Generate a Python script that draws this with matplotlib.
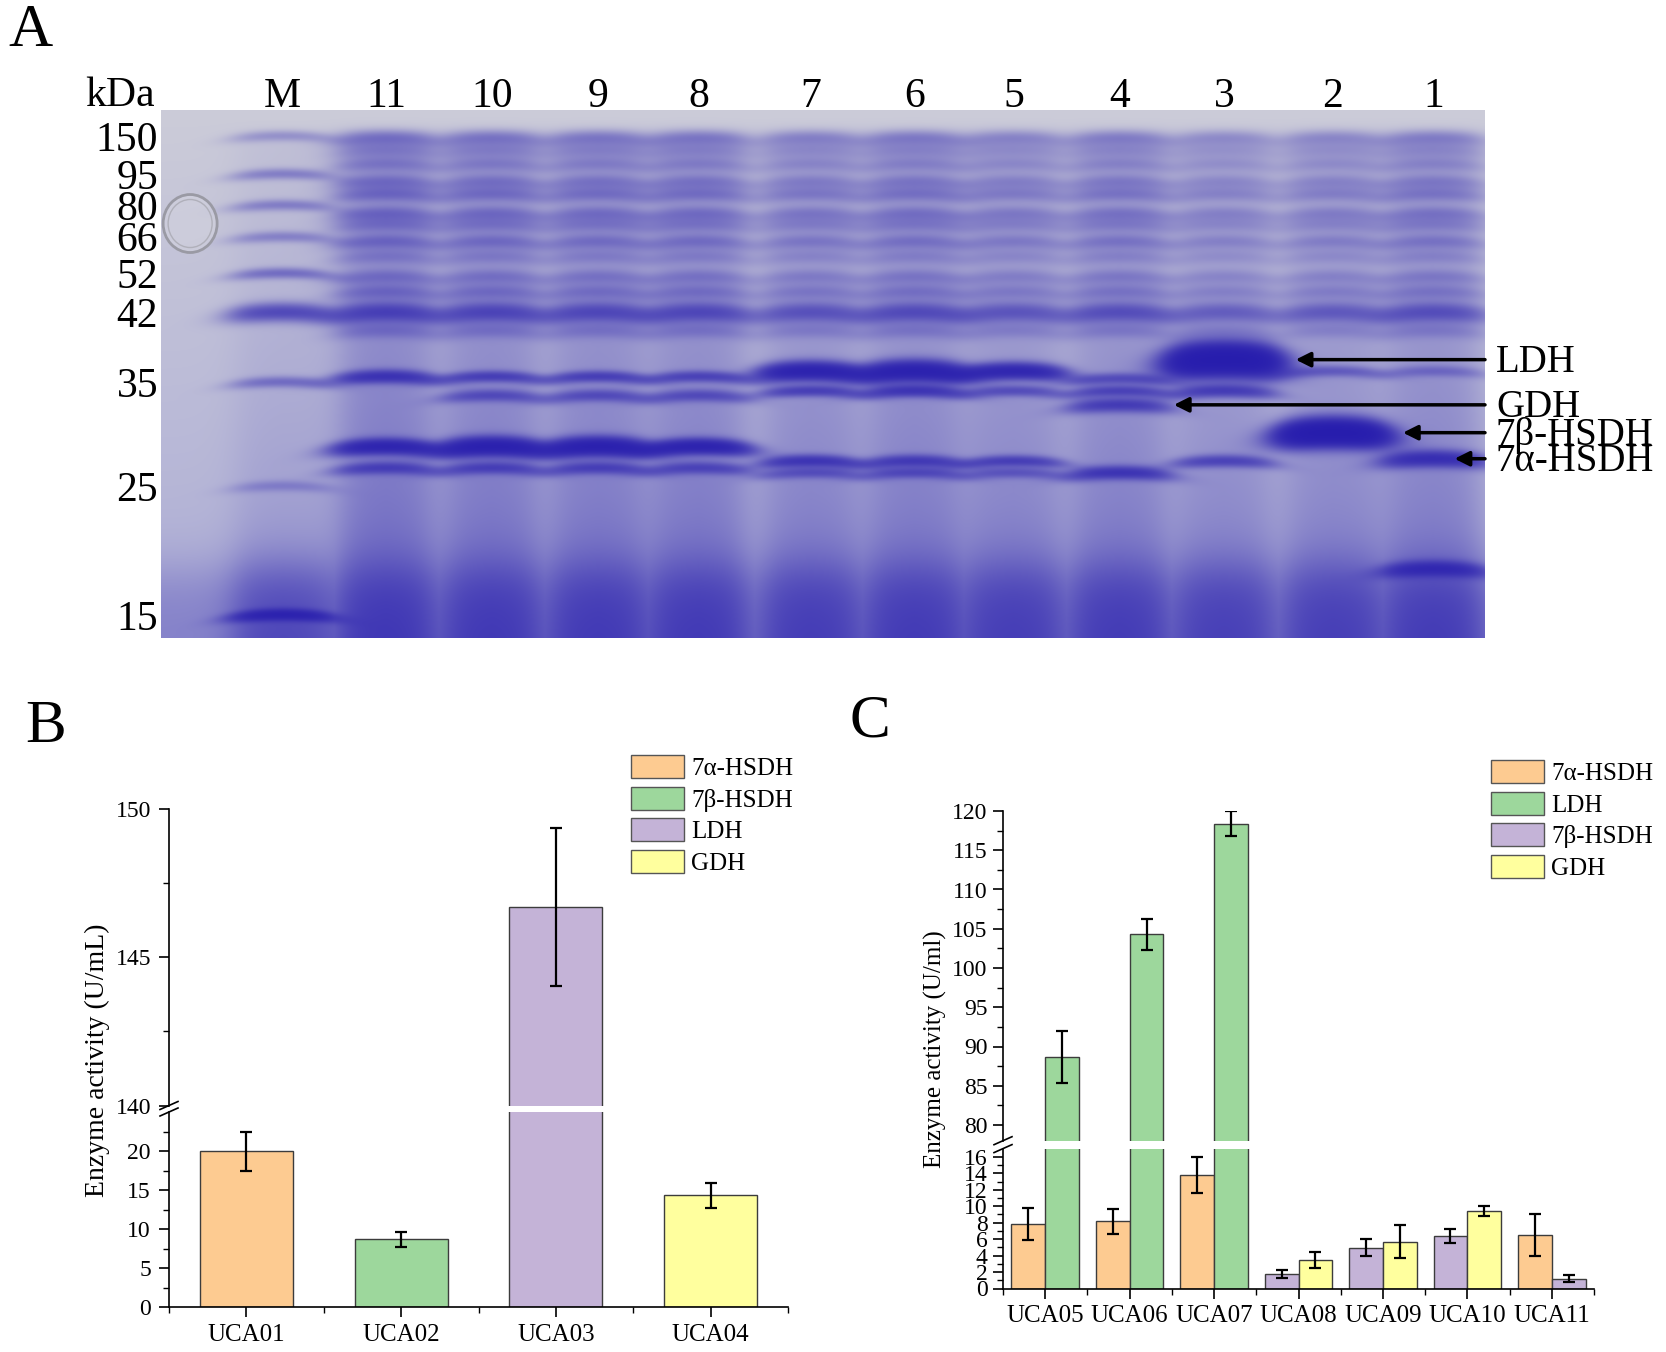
import matplotlib.pyplot as plt
import numpy as np
from matplotlib.patches import Patch, Ellipse

plt.rcParams['font.family'] = ['Liberation Serif', 'DejaVu Serif']

# ---------------- panel A : SDS-PAGE gel ----------------
lane_names = ['M', '11', '10', '9', '8', '7', '6', '5', '4', '3', '2', '1']
marker_kda = [150, 95, 80, 66, 52, 42, 35, 25, 15]
marker_rf = [0.049, 0.121, 0.180, 0.240, 0.309, 0.383, 0.515, 0.712, 0.956]
marker_strength = [0.35, 0.5, 0.5, 0.45, 0.65, 1.2, 0.6, 0.35, 2.0]

# host-cell bands present in every sample lane (kDa, strength)
host_kda = [146, 126, 107, 91, 85, 76, 71, 64, 58, 51, 47, 42, 40]
host_strength = [0.45, 0.3, 0.35, 0.45, 0.5, 0.5, 0.4, 0.5, 0.3, 0.4, 0.45, 1.1, 0.35]
lane_load = [1.1, 1.0, 0.95, 0.95, 0.8, 0.9, 0.75, 0.85, 0.65, 0.7, 0.85]  # lanes 11..1

# lane specific bands: (kDa, strength, thickness)
lane_bands = {
    '11': [(35.5, 1.6, 1.3), (28.4, 2.4, 1.5), (26.5, 1.1, 1.2)],
    '10': [(35.5, 1.2, 1.1), (33.5, 0.9, 1.2), (28.4, 3.0, 1.8), (26.5, 1.1, 1.2)],
    '9': [(35.5, 1.2, 1.1), (33.5, 0.9, 1.2), (28.4, 3.0, 1.8), (26.5, 1.1, 1.2)],
    '8': [(35.5, 1.1, 1.1), (33.5, 0.9, 1.2), (28.4, 2.6, 1.5), (26.5, 1.0, 1.2)],
    '7': [(36.0, 2.8, 1.8), (34.0, 1.2, 1.1), (27.1, 1.5, 1.2), (26.1, 0.8, 1.1)],
    '6': [(36.0, 3.0, 2.0), (34.0, 1.5, 1.2), (27.1, 1.3, 1.2), (26.1, 0.9, 1.1)],
    '5': [(36.0, 2.4, 1.6), (34.0, 0.9, 1.1), (27.1, 1.2, 1.1), (26.1, 0.7, 1.1)],
    '4': [(35.3, 0.9, 1.1), (34.0, 1.1, 1.1), (32.5, 1.3, 1.4), (26.1, 1.5, 1.3)],
    '3': [(37.1, 4.5, 3.2), (34.0, 1.3, 1.3), (27.1, 1.1, 1.2)],
    '2': [(36.0, 0.7, 1.1), (29.7, 4.5, 2.6)],
    '1': [(36.0, 0.5, 1.1), (27.3, 1.8, 1.6), (18.0, 1.7, 1.5)],
}
gel_tags = ['LDH', 'GDH', '7β-HSDH', '7α-HSDH']
gel_tag_kda = [37.1, 32.5, 29.7, 27.3]

# ---------------- panel B ----------------
b_cats = ['UCA01', 'UCA02', 'UCA03', 'UCA04']
b_enzymes = ['7α-HSDH', '7β-HSDH', 'LDH', 'GDH']
b_vals = [20.0, 8.67, 146.7, 14.3]
b_errs = [2.5, 1.0, 2.66, 1.6]

# ---------------- panel C ----------------
c_cats = ['UCA05', 'UCA06', 'UCA07', 'UCA08', 'UCA09', 'UCA10', 'UCA11']
c_left_enz = ['7α-HSDH', '7α-HSDH', '7α-HSDH', '7β-HSDH', '7β-HSDH', '7β-HSDH', '7α-HSDH']
c_left_vals = [7.8, 8.15, 13.8, 1.75, 4.97, 6.4, 6.5]
c_left_errs = [1.93, 1.57, 2.2, 0.5, 1.05, 0.85, 2.5]
c_right_enz = ['LDH', 'LDH', 'LDH', 'GDH', 'GDH', 'GDH', '7β-HSDH']
c_right_vals = [88.7, 104.3, 118.4, 3.47, 5.7, 9.43, 1.2]
c_right_errs = [3.3, 2.0, 1.55, 1.0, 2.0, 0.6, 0.47]

orange, green, purple, yellow = '#fdcb91', '#9dd79c', '#c4b3d7', '#ffff9e'
b_colour = {'7α-HSDH': orange, '7β-HSDH': green, 'LDH': purple, 'GDH': yellow}
c_colour = {'7α-HSDH': orange, 'LDH': green, '7β-HSDH': purple, 'GDH': yellow}

FW, FH = 1666, 1352
fig = plt.figure(figsize=(FW / 100, FH / 100), dpi=100)


def add_ax(l, t, r, b):
    return fig.add_axes([l / FW, 1 - b / FH, (r - l) / FW, (b - t) / FH])


def kda_to_rf(k):
    return np.interp(np.log(k), np.log(marker_kda[::-1]), marker_rf[::-1])


# ---------- gel ----------
ax = add_ax(161, 110, 1485, 638)
lane_x = [0.092, 0.170, 0.250, 0.330, 0.406, 0.491, 0.569, 0.644, 0.724, 0.803, 0.885, 0.961]
H, W = 528, 1324
X, Y = np.meshgrid((np.arange(W) + 0.5) / W, (np.arange(H) + 0.5) / H)
D = np.zeros((H, W))
started = 1 / (1 + np.exp(-(Y - 0.04) / 0.006))


def mask(cx, hw, soft=0.008):
    return 1 / (1 + np.exp((np.abs(X - cx) - hw) / soft))


def band(cx, hw, rf, s, thick=1.0):
    sig = 0.0065 * thick
    yc = rf + 4.0 * (X - cx) ** 2
    return s * np.exp(-0.5 * ((Y - yc) / sig) ** 2) * mask(cx, hw * (1 + 0.08 * (thick - 1)))


hw = 0.034
allmask = np.zeros((H, W))
for i, name in enumerate(lane_names):
    cx = lane_x[i]
    m = mask(cx, hw)
    allmask = np.maximum(allmask, m)
    if name == 'M':
        D += m * (0.06 + 0.15 * Y ** 2) * started
        for k, s in zip(marker_kda, marker_strength):
            t = 1.8 if k == 42 else 1.1
            D += band(cx, hw, kda_to_rf(k), s, t)
        continue
    load = lane_load[i - 1]
    D += m * (0.28 + 0.35 * Y ** 2) * started * load
    for k, s in zip(host_kda, host_strength):
        t = 2.0 if k == 42 else 1.5
        D += band(cx, hw, kda_to_rf(k), s * load, t)
    for k, s, t in lane_bands[name]:
        D += band(cx, hw, kda_to_rf(k), s, t)

D += 1.0 / (1 + np.exp(-(Y - 0.88) / 0.03)) * (0.35 + 0.65 * allmask)
bg = np.array([0.80, 0.80, 0.85]) * (1 - Y[..., None]) + np.array([0.68, 0.68, 0.84]) * Y[..., None]
stain = np.array([0.15, 0.11, 0.68])
img = bg + (stain - bg) * (1 - np.exp(-D))[..., None]
ax.imshow(img, extent=(0, 1, 1, 0), aspect='auto', interpolation='bilinear')
ax.add_patch(Ellipse((0.022, 0.215), 54 / W, 58 / H, facecolor=(0.83, 0.83, 0.87, 0.5),
                     edgecolor='#9a9aa4', linewidth=2))
ax.add_patch(Ellipse((0.022, 0.215), 44 / W, 48 / H, facecolor='none',
                     edgecolor='#b0b0ba', linewidth=1))
ax.set_xlim(0, 1)
ax.set_ylim(1, 0)
for s in ax.spines.values():
    s.set_visible(False)
ax.set_yticks(marker_rf, [str(k) for k in marker_kda])
ax.tick_params(axis='y', length=0, pad=2, labelsize=30)
ax.xaxis.tick_top()
ax.set_xticks(lane_x, lane_names)
ax.tick_params(axis='x', length=0, pad=-4, labelsize=30)
ax.text(-0.0574, 1 - 5.5 / H, 'kDa', transform=ax.transAxes, ha='left', va='bottom', fontsize=30)

tag_tip = [0.857, 0.765, 0.938, 0.977]
for tag, k, tx in zip(gel_tags, gel_tag_kda, tag_tip):
    rf = kda_to_rf(k)
    ax.annotate('', xy=(tx, rf), xytext=(1.0, rf), annotation_clip=False,
                arrowprops=dict(arrowstyle='-|>', color='black', lw=2.5,
                                mutation_scale=22, shrinkA=0, shrinkB=0))
    ax.text(1.0 + 11 / W, rf + 3 / H, tag, ha='left', va='center', fontsize=28, clip_on=False)


# ---------- bar panels ----------
def style(a, bottom=True):
    for s in ['top', 'right']:
        a.spines[s].set_visible(False)
    a.spines['left'].set_linewidth(1.2)
    a.spines['bottom'].set_linewidth(1.2)
    a.tick_params(axis='y', which='major', length=7, width=1.2, labelsize=17, pad=6)
    a.tick_params(axis='y', which='minor', length=4, width=1.0)
    if not bottom:
        a.spines['bottom'].set_visible(False)
        a.tick_params(axis='x', which='both', bottom=False, labelbottom=False)
    else:
        a.tick_params(axis='x', which='major', length=7, width=1.2, labelsize=18, pad=5)
        a.tick_params(axis='x', which='minor', length=4, width=1.0)


def break_marks(a_hi, a_lo, wpx, hhi, hlo):
    dx, d = 9 / wpx, 4
    kw = dict(color='black', lw=1.2, clip_on=False)
    a_hi.plot([-dx, dx], [-d / hhi, d / hhi], transform=a_hi.transAxes, **kw)
    a_lo.plot([-dx, dx], [1 - d / hlo, 1 + d / hlo], transform=a_lo.transAxes, **kw)


def draw_bars(axes, x, vals, errs, cols, width):
    for a in axes:
        a.bar(x, vals, width, color=cols, edgecolor='#3c3c3c', linewidth=1.0, zorder=2)
        a.errorbar(x, vals, yerr=errs, fmt='none', ecolor='black', elinewidth=1.6,
                   capsize=4, capthick=1.6, zorder=3)


legend_kw = dict(loc='upper left', frameon=False, fontsize=18, handlelength=2.1,
                 handleheight=1.05, labelspacing=0.26, handletextpad=0.3,
                 borderpad=0, borderaxespad=0)

# panel B
bh = add_ax(169, 809, 788, 1105.5)
bl = add_ax(169, 1112, 788, 1307)
xb = np.arange(1, len(b_cats) + 1)
draw_bars([bh, bl], xb, b_vals, b_errs, [b_colour[e] for e in b_enzymes], 0.6)
bh.set_ylim(140, 150)
bl.set_ylim(0, 25)
bh.set_yticks([140, 145, 150])
bh.set_yticks([142.5, 147.5], minor=True)
bl.set_yticks([0, 5, 10, 15, 20])
bl.set_yticks([2.5, 7.5, 12.5, 17.5, 22.5], minor=True)
for a in (bh, bl):
    a.set_xlim(0.5, len(b_cats) + 0.5)
bl.set_xticks(xb, b_cats)
bl.set_xticks(np.arange(0.5, len(b_cats) + 1, 1.0), minor=True)
style(bh, bottom=False)
style(bl)
break_marks(bh, bl, 619, 296.5, 195)
fig.text(97 / FW, 1 - 1060 / FH, 'Enzyme activity (U/mL)', rotation=90,
         ha='center', va='center', fontsize=20)
fig.legend(handles=[Patch(facecolor=b_colour[e], edgecolor='#555555', label=e) for e in b_enzymes],
           bbox_to_anchor=(631 / FW, 1 - 755 / FH), **legend_kw)

# panel C
ch = add_ax(1003, 811, 1594, 1140.7)
cl = add_ax(1003, 1148.6, 1594, 1288.5)
xc = np.arange(1, len(c_cats) + 1)
draw_bars([ch, cl], xc - 0.2, c_left_vals, c_left_errs, [c_colour[e] for e in c_left_enz], 0.4)
draw_bars([ch, cl], xc + 0.2, c_right_vals, c_right_errs, [c_colour[e] for e in c_right_enz], 0.4)
ch.set_ylim(78, 120)
cl.set_ylim(0, 17)
ch.set_yticks(np.arange(80, 121, 5))
ch.set_yticks(np.arange(82.5, 120, 5), minor=True)
cl.set_yticks(np.arange(0, 17, 2))
cl.set_yticks(np.arange(1, 17, 2), minor=True)
for a in (ch, cl):
    a.set_xlim(0.5, len(c_cats) + 0.5)
cl.set_xticks(xc, c_cats)
cl.set_xticks(np.arange(0.5, len(c_cats) + 1, 1.0), minor=True)
style(ch, bottom=False)
style(cl)
ch.tick_params(axis='y', pad=4)
cl.tick_params(axis='y', pad=4)
break_marks(ch, cl, 591, 329.7, 139.9)
fig.text(935 / FW, 1 - 1049 / FH, 'Enzyme activity (U/ml)', rotation=90,
         ha='center', va='center', fontsize=18)
fig.legend(handles=[Patch(facecolor=c_colour[e], edgecolor='#555555', label=e)
                    for e in ['7α-HSDH', 'LDH', '7β-HSDH', 'GDH']],
           bbox_to_anchor=(1491 / FW, 1 - 760 / FH), **legend_kw)

# panel letters
fig.text(8 / FW, 1 - 31 / FH, 'A', fontsize=44, ha='left', va='center')
fig.text(25 / FW, 1 - 727 / FH, 'B', fontsize=44, ha='left', va='center')
fig.text(850 / FW, 1 - 722 / FH, 'C', fontsize=44, ha='left', va='center')

fig.savefig('out.png', dpi=100)
